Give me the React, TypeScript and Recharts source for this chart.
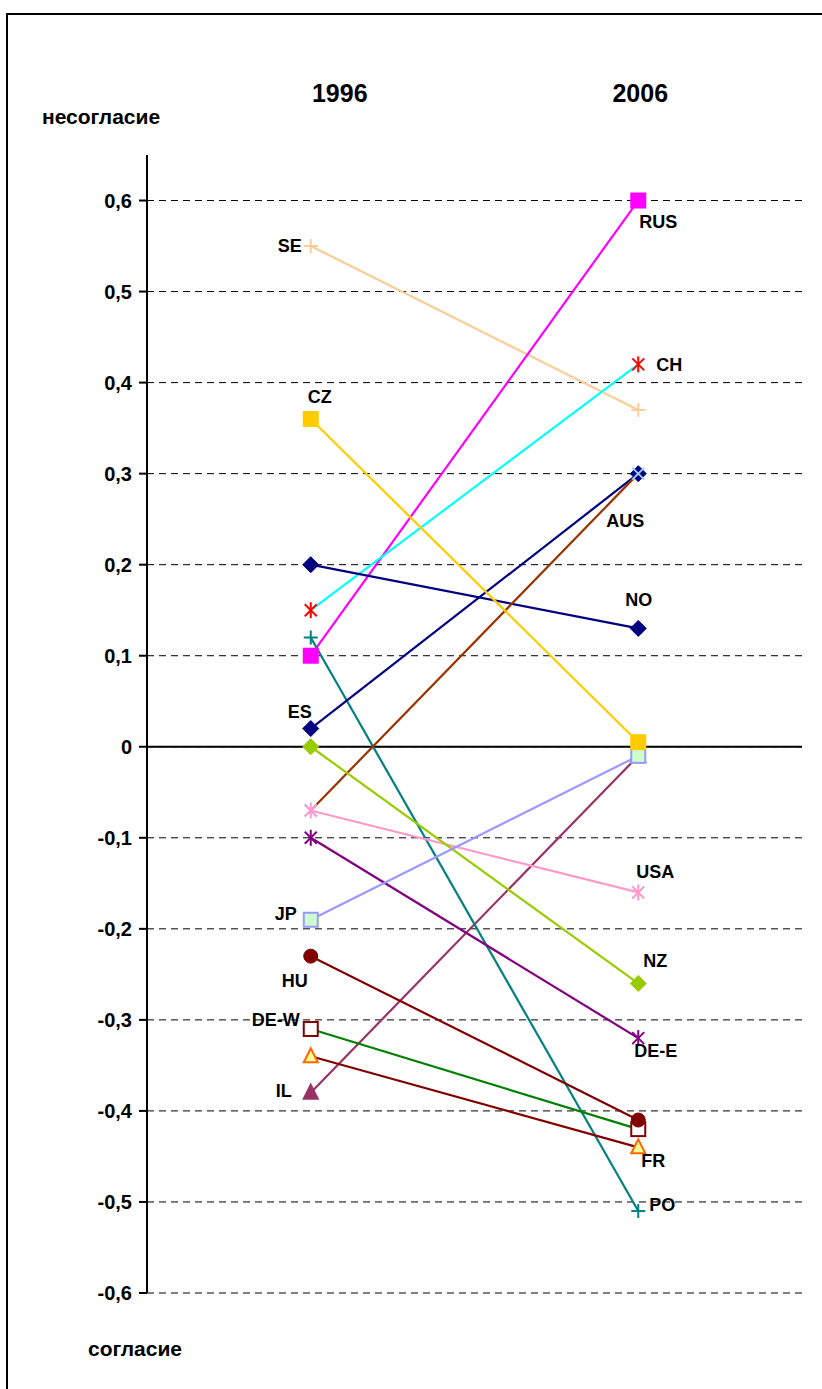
import React from 'react'
import { LineChart, Line, XAxis, YAxis, CartesianGrid, ReferenceLine } from 'recharts'

const years = ['1996', '2006']
const countries = ['IL', 'SE', 'RUS', 'CH', 'NO', 'PO', 'ES', 'AUS', 'USA', 'NZ', 'DE-E', 'JP', 'CZ', 'DE-W', 'FR', 'HU']
const values1996 = [-0.38, 0.55, 0.1, 0.15, 0.2, 0.12, 0.02, -0.07, -0.07, 0.0, -0.1, -0.19, 0.36, -0.31, -0.34, -0.23]
const values2006 = [-0.01, 0.37, 0.6, 0.42, 0.13, -0.51, 0.3, 0.3, -0.16, -0.26, -0.32, -0.01, 0.005, -0.42, -0.44, -0.41]
const yTicks = [-0.6, -0.5, -0.4, -0.3, -0.2, -0.1, 0, 0.1, 0.2, 0.3, 0.4, 0.5, 0.6]

// styling per country: line colour, marker shape, marker fill / stroke
const styles: Record<string, { line: string; shape: string; fill: string; stroke: string }> = {
  SE: { line: '#FFCC99', shape: 'plus', fill: 'none', stroke: '#FFCC99' },
  CZ: { line: '#FFCC00', shape: 'square', fill: '#FFCC00', stroke: '#FFCC00' },
  RUS: { line: '#FF00FF', shape: 'square', fill: '#FF00FF', stroke: '#FF00FF' },
  CH: { line: '#00FFFF', shape: 'star', fill: 'none', stroke: '#FF0000' },
  NO: { line: '#000080', shape: 'diamond', fill: '#000080', stroke: '#000080' },
  PO: { line: '#008080', shape: 'plus', fill: 'none', stroke: '#008080' },
  ES: { line: '#000080', shape: 'diamond', fill: '#000080', stroke: '#000080' },
  AUS: { line: '#993300', shape: 'x', fill: 'none', stroke: '#99CCFF' },
  USA: { line: '#FF99CC', shape: 'star', fill: 'none', stroke: '#FF99CC' },
  NZ: { line: '#99CC00', shape: 'diamond', fill: '#99CC00', stroke: '#99CC00' },
  'DE-E': { line: '#800080', shape: 'star', fill: 'none', stroke: '#800080' },
  JP: { line: '#9999FF', shape: 'square', fill: '#CCFFCC', stroke: '#9999FF' },
  HU: { line: '#800000', shape: 'circle', fill: '#800000', stroke: '#800000' },
  'DE-W': { line: '#008000', shape: 'square', fill: '#FFFFFF', stroke: '#800000' },
  FR: { line: '#800000', shape: 'triangle', fill: '#FFFF99', stroke: '#FF6600' },
  IL: { line: '#993366', shape: 'triangle', fill: '#993366', stroke: '#993366' },
}

// where each country's name sits: which end, offset from the point, anchor
const labelPos: Record<string, { i: number; dx: number; dy: number; anchor: string }> = {
  SE: { i: 0, dx: -9, dy: 6, anchor: 'end' },
  CZ: { i: 0, dx: -3, dy: -16, anchor: 'start' },
  ES: { i: 0, dx: 1, dy: -11, anchor: 'end' },
  JP: { i: 0, dx: -14, dy: 0, anchor: 'end' },
  HU: { i: 0, dx: -3, dy: 31, anchor: 'end' },
  'DE-W': { i: 0, dx: -11, dy: -3, anchor: 'end' },
  IL: { i: 0, dx: -19, dy: 4, anchor: 'end' },
  RUS: { i: 1, dx: 1, dy: 27, anchor: 'start' },
  CH: { i: 1, dx: 18, dy: 7, anchor: 'start' },
  AUS: { i: 1, dx: -32, dy: 53, anchor: 'start' },
  NO: { i: 1, dx: -13, dy: -22, anchor: 'start' },
  USA: { i: 1, dx: -2, dy: -14, anchor: 'start' },
  NZ: { i: 1, dx: 5, dy: -16, anchor: 'start' },
  'DE-E': { i: 1, dx: -4, dy: 19, anchor: 'start' },
  FR: { i: 1, dx: 3, dy: 20, anchor: 'start' },
  PO: { i: 1, dx: 11, dy: 0, anchor: 'start' },
}

const data = years.map((_, i) => {
  const row: Record<string, number> = { x: i }
  countries.forEach((c, k) => {
    row[c] = i === 0 ? values1996[k] : values2006[k]
  })
  return row
})

const FONT = '"Liberation Sans", Arial, sans-serif'

function Marker({ cx, cy, s }: { cx: number; cy: number; s: (typeof styles)[string] }) {
  const h = 7
  switch (s.shape) {
    case 'square':
      return <rect x={cx - h} y={cy - h} width={h * 2} height={h * 2} fill={s.fill} stroke={s.stroke} strokeWidth={2} />
    case 'diamond':
      return (
        <polygon
          points={`${cx},${cy - 8} ${cx + 8},${cy} ${cx},${cy + 8} ${cx - 8},${cy}`}
          fill={s.fill}
          stroke={s.stroke}
        />
      )
    case 'circle':
      return <circle cx={cx} cy={cy} r={7} fill={s.fill} stroke={s.stroke} />
    case 'triangle':
      return (
        <polygon
          points={`${cx},${cy - 8} ${cx + 7},${cy + 6} ${cx - 7},${cy + 6}`}
          fill={s.fill}
          stroke={s.stroke}
          strokeWidth={2}
        />
      )
    case 'plus':
      return (
        <g stroke={s.stroke} strokeWidth={2}>
          <line x1={cx - 7} y1={cy} x2={cx + 7} y2={cy} />
          <line x1={cx} y1={cy - 7} x2={cx} y2={cy + 7} />
        </g>
      )
    case 'x':
      return (
        <g stroke={s.stroke} strokeWidth={2}>
          <line x1={cx - 6} y1={cy - 6} x2={cx + 6} y2={cy + 6} />
          <line x1={cx - 6} y1={cy + 6} x2={cx + 6} y2={cy - 6} />
        </g>
      )
    default:
      return (
        <g stroke={s.stroke} strokeWidth={2}>
          <line x1={cx - 6} y1={cy - 6} x2={cx + 6} y2={cy + 6} />
          <line x1={cx - 6} y1={cy + 6} x2={cx + 6} y2={cy - 6} />
          <line x1={cx} y1={cy - 8} x2={cx} y2={cy + 8} />
        </g>
      )
  }
}

const yearDx = [29, 2]

const YearTick = ({ x, payload }: any) => (
  <text x={x + yearDx[payload.value]} y={102} textAnchor="middle" fontFamily={FONT} fontWeight="bold" fontSize={25} fill="#000">
    {years[payload.value]}
  </text>
)

const fmt = (v: number) => (v === 0 ? '0' : v.toFixed(1).replace('.', ','))

export default function App() {
  return (
    <div style={{ position: 'fixed', left: 0, top: 0, width: 822, height: 1389, overflow: 'hidden', background: '#fff' }}>
      <div style={{ position: 'absolute', left: 6, top: 13, width: 900, height: 1500, border: '2px solid #000' }} />
      <div style={{ position: 'absolute', left: 42, top: 105, fontFamily: FONT, fontWeight: 'bold', fontSize: 21 }}>несогласие</div>
      <div style={{ position: 'absolute', left: 88, top: 1337, fontFamily: FONT, fontWeight: 'bold', fontSize: 21 }}>согласие</div>
      <div style={{ position: 'absolute', left: 0, top: 0 }}>
        <LineChart width={822} height={1389} data={data} margin={{ top: 95, right: 20, bottom: 96, left: 87 }}>
          <CartesianGrid vertical={false} horizontalValues={yTicks} stroke="#000" strokeDasharray="7 5" />
          <XAxis
            type="number"
            dataKey="x"
            domain={[-0.5, 1.5]}
            ticks={[0, 1]}
            orientation="top"
            height={60}
            axisLine={false}
            tickLine={false}
            tick={<YearTick />}
          />
          <YAxis
            type="number"
            domain={[-0.6, 0.65]}
            ticks={yTicks}
            width={60}
            tickFormatter={fmt}
            axisLine={{ stroke: '#000', strokeWidth: 2 }}
            tickLine={{ stroke: '#000', strokeWidth: 2 }}
            tickSize={8}
            tickMargin={7}
            tick={{ fill: '#000', fontFamily: FONT, fontWeight: 'bold', fontSize: 20 }}
            allowDataOverflow
          />
          <ReferenceLine y={0} stroke="#000" strokeWidth={2} />
          {countries.map((c) => {
            const s = styles[c]
            const lp = labelPos[c]
            return (
              <Line
                key={c}
                type="linear"
                dataKey={c}
                stroke={s.line}
                strokeWidth={2.2}
                isAnimationActive={false}
                activeDot={false}
                dot={(p: any) => {
                  if (p.cx == null || p.cy == null) return <g key={`${c}-${p.index}`} />
                  return (
                    <g key={`${c}-${p.index}`}>
                      <Marker cx={p.cx} cy={p.cy} s={s} />
                      {lp && lp.i === p.index && (
                        <text
                          x={p.cx + lp.dx}
                          y={p.cy + lp.dy}
                          textAnchor={lp.anchor as any}
                          fontFamily={FONT}
                          fontWeight="bold"
                          fontSize={18}
                          fill="#000"
                        >
                          {c}
                        </text>
                      )}
                    </g>
                  )
                }}
              />
            )
          })}
        </LineChart>
      </div>
    </div>
  )
}
